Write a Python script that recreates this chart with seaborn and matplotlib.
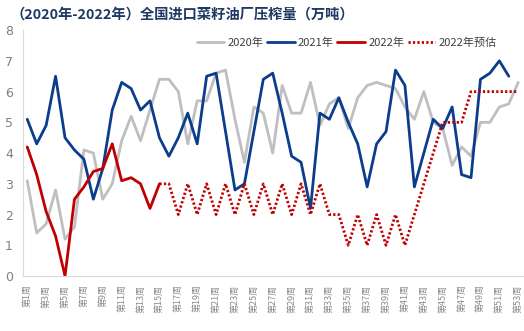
import numpy as np
import pandas as pd
import matplotlib
matplotlib.use("Agg")
import matplotlib.pyplot as plt
import seaborn as sns

weeks = list(range(1, 54))
week_labels = [f"第{w}周" for w in weeks]

y2020 = [3.1, 1.4, 1.7, 2.8, 1.2, 1.6, 4.1, 4.0, 2.5, 3.0, 4.4, 5.2, 4.4, 5.4, 6.4, 6.4, 6.0, 4.3,
         5.7, 5.7, 6.6, 6.7, 5.1, 3.7, 5.5, 5.3, 4.0, 6.2, 5.3, 5.3, 6.3, 4.9, 5.6, 5.8, 4.8, 5.8,
         6.2, 6.3, 6.2, 6.1, 5.5, 5.1, 6.0, 5.0, 4.8, 3.6, 4.2, 3.9, 5.0, 5.0, 5.5, 5.6, 6.3]
y2021 = [5.1, 4.3, 4.9, 6.5, 4.5, 4.1, 3.8, 2.5, 3.5, 5.4, 6.3, 6.1, 5.4, 5.7, 4.5, 3.9, 4.5, 5.3,
         4.3, 6.5, 6.6, 4.7, 2.8, 3.0, 4.7, 6.4, 6.6, 5.3, 3.9, 3.7, 2.2, 5.3, 5.1, 5.8, 5.0, 4.3,
         2.9, 4.3, 4.7, 6.7, 6.2, 2.9, 4.0, 5.1, 4.8, 5.5, 3.3, 3.2, 6.4, 6.6, 7.0, 6.5, np.nan]
y2022 = [4.2, 3.3, 2.1, 1.3, 0.0, 2.5, 2.9, 3.4, 3.5, 4.3, 3.1, 3.2, 3.0, 2.2, 3.0] + [np.nan] * 38
y2022f = [np.nan] * 14 + [3, 3, 2, 3, 2, 3, 2, 3, 2, 3, 2, 3, 2, 3, 2, 3, 2, 3, 2, 2, 1, 2, 1, 2,
                          1, 2, 1, 2, 3, 4, 5, 5, 5, 6, 6, 6, 6, 6, 6]

series_names = ["2020年", "2021年", "2022年", "2022年预估"]
colors = ["#BFBFBF", "#0B3D8C", "#C00000", "#C00000"]

sns.set_theme(style="white")
plt.rcParams["font.family"] = ["Noto Sans CJK SC", "DejaVu Sans"]

fig = plt.figure(figsize=(5.24, 3.31), dpi=100)
ax = fig.add_axes([0.043, 0.166, 0.955, 0.743])

idx = np.arange(len(weeks))
df = pd.DataFrame({"idx": idx, series_names[0]: y2020, series_names[1]: y2021,
                   series_names[2]: y2022, series_names[3]: y2022f})

for name, col in zip(series_names, colors):
    sub = df[["idx", name]].dropna()
    ls = (0, (0.8, 0.8)) if name == "2022年预估" else "-"
    sns.lineplot(data=sub, x="idx", y=name, ax=ax, color=col, linewidth=2.0,
                 linestyle=ls, label=name, legend=False)

ax.set_xlim(-0.5, len(weeks) - 0.5)
ax.set_ylim(0, 8)
ax.set_yticks(range(0, 9))
ax.set_yticklabels([str(v) for v in range(0, 9)], fontsize=9, color="#7F7F7F",
                   family=["DejaVu Sans"])
ax.set_xticks(idx[::2])
ax.set_xticklabels(week_labels[::2], rotation=90, fontsize=6.5, color="#8C8C8C")
ax.set_xticks(np.arange(-0.5, len(weeks), 1), minor=True)
ax.tick_params(axis="x", which="major", length=0, pad=6)
ax.tick_params(axis="x", which="minor", length=4, color="#D9D9D9", width=0.8, direction="out")
ax.tick_params(axis="y", length=4, color="#D9D9D9", width=0.8, direction="out", pad=3)
ax.set_xlabel("")
ax.set_ylabel("")
for s in ["top", "right"]:
    ax.spines[s].set_visible(False)
for s in ["left", "bottom"]:
    ax.spines[s].set_color("#D9D9D9")
    ax.spines[s].set_linewidth(0.8)

h, l = ax.get_legend_handles_labels()
fig.legend(h, l, loc="center left", bbox_to_anchor=(0.375, 0.87), ncol=4, frameon=False,
           fontsize=8, handlelength=2.5, handletextpad=0.3, columnspacing=0.3,
           labelcolor="#404040", borderaxespad=0, borderpad=0)

fig.text(0.02, 0.957, "（2020年-2022年）全国进口菜籽油厂压榨量（万吨）", fontsize=10.3,
         fontweight="bold", color="#1F3864", va="center", ha="left")

fig.savefig("out.png", dpi=100)
